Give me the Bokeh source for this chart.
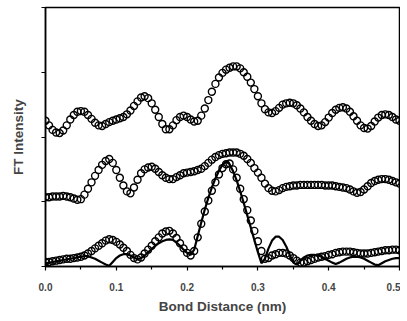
import numpy as np
from bokeh.plotting import figure
from bokeh.models import FixedTicker, NumeralTickFormatter, Range1d, ColumnDataSource
from bokeh.embed import file_html
from bokeh.resources import INLINE

# sampling grid (nm), step 0.005
bond_nm = np.round(np.arange(101) * 0.005, 3)

top_exp = [2.25, 2.18, 2.11, 2.07, 2.06, 2.10, 2.18, 2.27, 2.34, 2.39,
           2.40, 2.39, 2.34, 2.28, 2.22, 2.18, 2.17, 2.20, 2.23, 2.25,
           2.27, 2.29, 2.31, 2.35, 2.41, 2.48, 2.55, 2.61, 2.63, 2.60,
           2.52, 2.42, 2.31, 2.20, 2.12, 2.12, 2.18, 2.26, 2.31, 2.33,
           2.31, 2.27, 2.24, 2.25, 2.33, 2.44, 2.57, 2.70, 2.82, 2.92,
           2.99, 3.04, 3.07, 3.09, 3.09, 3.06, 3.00, 2.93, 2.84, 2.74,
           2.63, 2.52, 2.43, 2.38, 2.37, 2.40, 2.45, 2.50, 2.52, 2.53,
           2.52, 2.49, 2.44, 2.38, 2.31, 2.25, 2.20, 2.17, 2.18, 2.23,
           2.30, 2.37, 2.42, 2.45, 2.46, 2.44, 2.39, 2.32, 2.25, 2.18,
           2.14, 2.13, 2.17, 2.24, 2.30, 2.34, 2.35, 2.34, 2.31, 2.27,
           2.25]

mid_exp = [1.07, 1.07, 1.08, 1.08, 1.08, 1.09, 1.08, 1.07, 1.05, 1.03,
           1.04, 1.11, 1.20, 1.30, 1.40, 1.49, 1.57, 1.63, 1.66, 1.60,
           1.49, 1.37, 1.25, 1.16, 1.13, 1.22, 1.34, 1.44, 1.50, 1.53,
           1.54, 1.51, 1.46, 1.41, 1.37, 1.35, 1.35, 1.38, 1.41, 1.44,
           1.45, 1.46, 1.47, 1.49, 1.51, 1.55, 1.60, 1.65, 1.69, 1.72,
           1.74, 1.75, 1.76, 1.76, 1.76, 1.74, 1.71, 1.66, 1.60, 1.52,
           1.45, 1.37, 1.28, 1.21, 1.17, 1.16, 1.18, 1.21, 1.23, 1.24,
           1.25, 1.25, 1.26, 1.26, 1.26, 1.26, 1.26, 1.26, 1.26, 1.25,
           1.25, 1.25, 1.24, 1.23, 1.22, 1.21, 1.19, 1.16, 1.14, 1.15,
           1.19, 1.24, 1.29, 1.32, 1.34, 1.35, 1.35, 1.34, 1.32, 1.30,
           1.28]

bot_exp = [0.07, 0.07, 0.08, 0.09, 0.10, 0.11, 0.12, 0.12, 0.13, 0.14,
           0.15, 0.17, 0.20, 0.24, 0.28, 0.32, 0.36, 0.40, 0.42, 0.41,
           0.38, 0.34, 0.29, 0.24, 0.18, 0.13, 0.11, 0.14, 0.20, 0.26,
           0.32, 0.39, 0.45, 0.51, 0.54, 0.55, 0.51, 0.44, 0.36, 0.28,
           0.21, 0.17, 0.24, 0.45, 0.66, 0.85, 1.02, 1.17, 1.30, 1.42,
           1.52, 1.58, 1.59, 1.50, 1.37, 1.20, 1.04, 0.87, 0.71, 0.55,
           0.39, 0.24, 0.12, 0.13, 0.17, 0.19, 0.21, 0.21, 0.20, 0.17,
           0.13, 0.09, 0.06, 0.06, 0.08, 0.10, 0.12, 0.14, 0.15, 0.16,
           0.18, 0.19, 0.21, 0.22, 0.23, 0.23, 0.23, 0.22, 0.21, 0.20,
           0.20, 0.20, 0.21, 0.22, 0.23, 0.24, 0.25, 0.25, 0.26, 0.26,
           0.25]

bot_fit = [0.05, 0.06, 0.07, 0.08, 0.09, 0.10, 0.11, 0.12, 0.13, 0.14,
           0.15, 0.16, 0.16, 0.14, 0.12, 0.09, 0.06, 0.03, 0.01, 0.07,
           0.13, 0.17, 0.19, 0.19, 0.17, 0.14, 0.11, 0.13, 0.17, 0.22,
           0.27, 0.32, 0.36, 0.39, 0.41, 0.42, 0.41, 0.37, 0.32, 0.26,
           0.21, 0.18, 0.26, 0.47, 0.68, 0.88, 1.06, 1.22, 1.36, 1.48,
           1.57, 1.62, 1.58, 1.47, 1.33, 1.16, 0.98, 0.79, 0.60, 0.41,
           0.22, 0.05, 0.12, 0.28, 0.40, 0.46, 0.46, 0.41, 0.31, 0.18,
           0.06, 0.03, 0.09, 0.14, 0.17, 0.18, 0.18, 0.17, 0.15, 0.12,
           0.09, 0.06, 0.04, 0.06, 0.09, 0.12, 0.14, 0.15, 0.15, 0.14,
           0.12, 0.09, 0.06, 0.03, 0.02, 0.05, 0.08, 0.10, 0.12, 0.13,
           0.13]

x_ticks = [0.0, 0.1, 0.2, 0.3, 0.4, 0.5]
x_minor = [0.05, 0.15, 0.25, 0.35, 0.45]
y_ticks = [0, 1, 2, 3, 4]

src = ColumnDataSource(dict(x=bond_nm, top=top_exp, mid=mid_exp, bot=bot_exp, fit=bot_fit))

p = figure(frame_width=354, frame_height=259,
           x_range=Range1d(0, 0.5), y_range=Range1d(0, 4),
           output_backend="svg", toolbar_location=None,
           min_border_left=45, min_border_right=1, min_border_top=7, min_border_bottom=50,
           background_fill_color="white", border_fill_color="white")

p.grid.visible = False
p.outline_line_color = "black"
p.outline_line_width = 1.5

p.line("x", "fit", source=src, line_color="black", line_width=2.2)
for col in ["top", "mid", "bot"]:
    p.scatter("x", col, source=src, marker="circle", size=7,
              fill_alpha=0, line_color="black", line_width=1.4)

font = "Liberation Sans"
xa = p.xaxis[0]
xa.ticker = FixedTicker(ticks=x_ticks, minor_ticks=x_minor)
xa.formatter = NumeralTickFormatter(format="0.0")
xa.axis_label = "Bond Distance (nm)"
xa.axis_label_text_font = font
xa.axis_label_text_font_style = "bold"
xa.axis_label_text_font_size = "13.5px"
xa.axis_label_standoff = 5
xa.major_label_text_font = font
xa.major_label_text_font_style = "bold"
xa.major_label_text_font_size = "10px"
xa.major_label_standoff = 12
xa.major_tick_out = 4
xa.major_tick_in = 0
xa.minor_tick_out = 3
xa.minor_tick_in = 0
xa.axis_line_width = 1.5
xa.major_tick_line_width = 1.2
xa.minor_tick_line_width = 1.2

ya = p.yaxis[0]
ya.ticker = FixedTicker(ticks=y_ticks, minor_ticks=[])
ya.major_label_overrides = {t: "" for t in y_ticks}
ya.major_label_standoff = 0
ya.axis_label = "FT Intensity"
ya.axis_label_text_font = font
ya.axis_label_text_font_style = "bold"
ya.axis_label_text_font_size = "13.5px"
ya.axis_label_standoff = 16
ya.major_tick_out = 4
ya.major_tick_in = 0
ya.minor_tick_out = 0
ya.minor_tick_in = 0
ya.axis_line_width = 1.5
ya.major_tick_line_width = 1.2

open("out.html", "w").write(file_html(p, INLINE))
